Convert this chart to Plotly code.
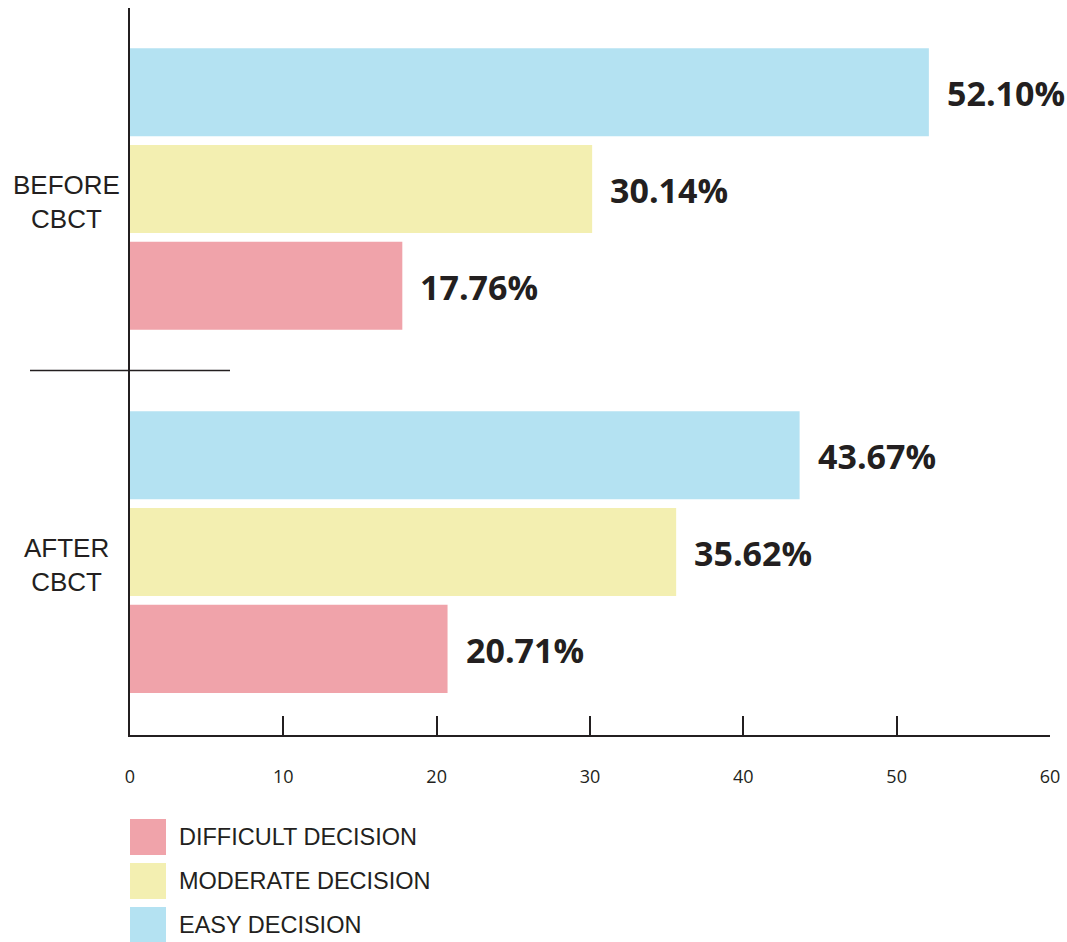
import plotly.graph_objects as go

groups = ["BEFORE CBCT", "AFTER CBCT"]
group_labels = ["BEFORE<br>CBCT", "AFTER<br>CBCT"]
series_names = ["EASY DECISION", "MODERATE DECISION", "DIFFICULT DECISION"]
easy = [52.10, 43.67]
moderate = [30.14, 35.62]
difficult = [17.76, 20.71]
series_values = [easy, moderate, difficult]
series_colors = ["#b4e2f2", "#f3efb1", "#f0a3aa"]
legend_order = ["DIFFICULT DECISION", "MODERATE DECISION", "EASY DECISION"]
x_ticks = [0, 10, 20, 30, 40, 50, 60]

W, H = 1067, 942
L, R, T, B = 130, 17, 8, 207
PW, PH = W - L - R, H - T - B
DARK = "#231f20"

def px_x(px):
    return (px - L) / PW

def px_y(py):
    return (H - B - py) / PH

fig = go.Figure()
for name, vals, col in zip(series_names, series_values, series_colors):
    fig.add_trace(go.Bar(
        y=groups, x=vals, orientation="h", name=name,
        marker=dict(color=col, line=dict(width=0)),
        showlegend=False,
    ))

annotations = []
n = len(series_names)
slot = 0.8 / n
for gi, g in enumerate(groups):
    for si, vals in enumerate(series_values):
        off = (si - (n - 1) / 2) * slot
        annotations.append(dict(
            x=vals[gi], y=gi + off, xref="x", yref="y",
            text=f"{vals[gi]:.2f}%", showarrow=False,
            xanchor="left", yanchor="middle", xshift=16, yshift=-1,
            font=dict(family="Open Sans", size=34, color=DARK, weight="bold"),
        ))
    annotations.append(dict(
        x=px_x(66), y=gi, xref="paper", yref="y",
        text=group_labels[gi], showarrow=False, align="center",
        xanchor="center", yanchor="middle", yshift=-13,
        font=dict(family="Liberation Sans", size=26, color=DARK),
    ))

shapes = [dict(type="line", xref="paper", yref="y",
               x0=px_x(30), x1=px_x(230), y0=0.5, y1=0.5,
               line=dict(color=DARK, width=1.5))]

# custom legend
color_map = dict(zip(series_names, series_colors))
for i, name in enumerate(legend_order):
    top = 819 + i * 44
    shapes.append(dict(type="rect", xref="paper", yref="paper",
                       x0=px_x(130), x1=px_x(166), y0=px_y(top), y1=px_y(top + 36),
                       fillcolor=color_map[name], line=dict(width=0)))
    annotations.append(dict(
        x=px_x(177), y=px_y(top + 18), xref="paper", yref="paper",
        text=name, showarrow=False, xanchor="left", yanchor="middle",
        font=dict(family="Liberation Sans", size=23.5, color=DARK),
    ))

fig.update_layout(
    width=W, height=H,
    margin=dict(l=L, r=R, t=T, b=B),
    paper_bgcolor="white", plot_bgcolor="white",
    barmode="group", bargap=0.2, bargroupgap=0.09,
    shapes=shapes, annotations=annotations,
    showlegend=False,
    xaxis=dict(range=[0, 60], tickvals=x_ticks, ticks="inside", ticklen=19,
               tickwidth=1.5, tickcolor=DARK, showline=True, linecolor=DARK,
               linewidth=2, showgrid=False, zeroline=False,
               ticklabelstandoff=24,
               tickfont=dict(family="Open Sans", size=18, color=DARK)),
    yaxis=dict(type="category", range=[1.504, -0.4986], showticklabels=False,
               ticks="", showline=True, linecolor=DARK, linewidth=2,
               showgrid=False, zeroline=False),
)

fig.write_html("out.html")
